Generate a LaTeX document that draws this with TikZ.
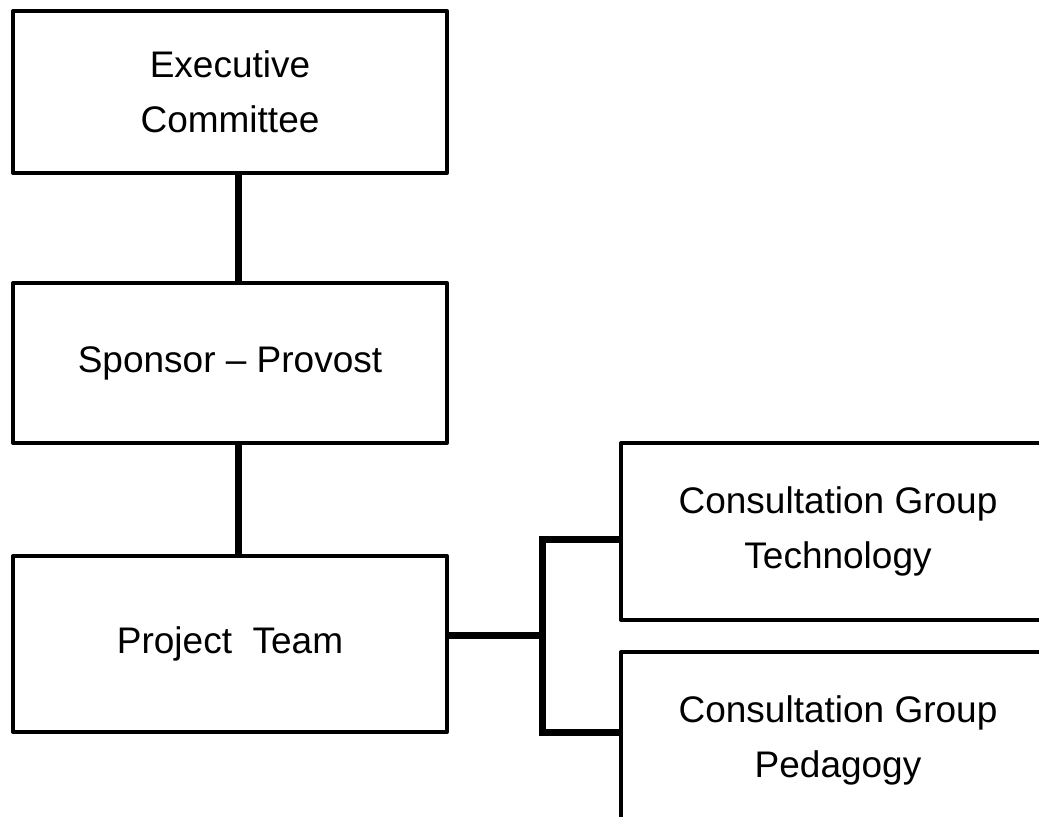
\documentclass[tikz,border=0pt]{standalone}
\usepackage{fontspec}
\setmainfont{Liberation Sans}
\usepackage{tikz}

\begin{document}
\begin{tikzpicture}[x=0.5pt, y=-0.5pt,
                box/.style={draw, line width=2pt, line join=round, inner sep=0pt,
                            minimum width=217pt, align=center,
                            font=\fontsize{18.5}{27.5}\selectfont},
                link/.style={line width=3.5pt}]
                \useasboundingbox (0,0) rectangle (1039,817);
                \clip (0,0) rectangle (1039,817);

                % the boxes
                \node[box, minimum height=81pt] (exec) at (230,92) {Executive\\Committee};
                \node[box, minimum height=80pt] (sponsor) at (230,363) {Sponsor -- Provost};
                \node[box, minimum height=88pt] (team) at (230,644) {Project\ \ Team};
                \node[box, minimum height=88.5pt] (tech) at (838,531.5) {Consultation Group\\Technology};
                \node[box, minimum height=88.5pt] (peda) at (838,740.5) {Consultation Group\\Pedagogy};

                % helper points
                \coordinate (spine) at (238,0);
                \coordinate (fork) at (542,636);
                \coordinate (forktop) at (542,540);
                \coordinate (forkbot) at (542,732);

                % vertical links
                \draw[link] (exec.south -| spine) -- (sponsor.north -| spine);
                \draw[link] (sponsor.south -| spine) -- (team.north -| spine);

                % bracket to the consultation groups
                \draw[link] (team.east |- fork) -- (fork);
                \draw[link] (tech.west |- forktop) -- (forktop) -- (forkbot) -- (peda.west |- forkbot);
            \end{tikzpicture}
\end{document}
